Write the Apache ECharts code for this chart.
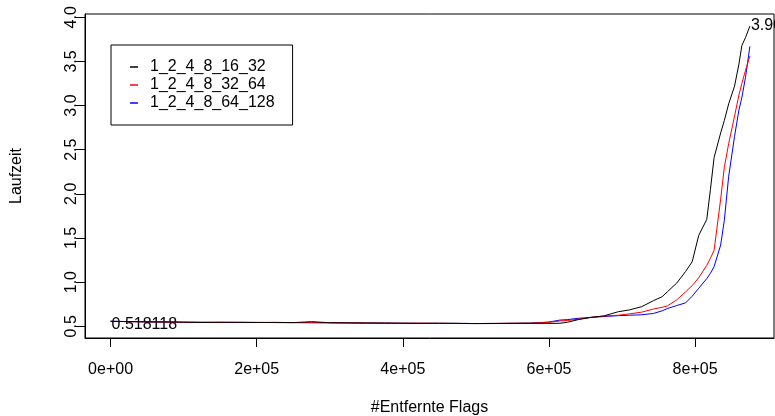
<!DOCTYPE html>
<html>
<head>
<meta charset="utf-8">
<script src="https://cdn.jsdelivr.net/npm/echarts@6/dist/echarts.min.js"></script>
<style>
html, body { margin: 0; padding: 0; background: #fff; }
#chart { width: 775px; height: 416px; }
</style>
</head>
<body>
<div id="chart"></div>
<script>
var seriesNames = ['1_2_4_8_16_32', '1_2_4_8_32_64', '1_2_4_8_64_128'];
var seriesColors = ['#000000', '#ff0000', '#0000ff'];

// #Entfernte Flags
var xs = [0, 25000, 50000, 75000, 100000, 125000, 150000, 175000, 200000, 225000,
	250000, 275000, 300000, 325000, 350000, 375000, 400000, 425000, 450000, 475000,
	500000, 525000, 550000, 575000, 600000, 615000, 625000, 640000, 657000, 675000,
	695000, 710000, 727000, 743000, 755000, 762000, 775000, 787000, 796000, 805000,
	816000, 821000, 826000, 835000, 840000, 846000, 854000, 860000, 864000, 869000, 875000];

// Laufzeit
var black = [0.555, 0.553, 0.55, 0.549, 0.546, 0.543, 0.545, 0.544, 0.543, 0.544,
	0.541, 0.552, 0.54, 0.538, 0.537, 0.536, 0.534, 0.533, 0.535, 0.532,
	0.53, 0.531, 0.533, 0.534, 0.532, 0.534, 0.545, 0.575, 0.60, 0.617,
	0.665, 0.685, 0.722, 0.79, 0.835, 0.89, 0.99, 1.12, 1.23, 1.53,
	1.71, 2.05, 2.41, 2.69, 2.83, 3.02, 3.22, 3.47, 3.68, 3.77, 3.90];
var red = [0.556, 0.552, 0.551, 0.548, 0.545, 0.544, 0.544, 0.545, 0.543, 0.542,
	0.542, 0.541, 0.54, 0.538, 0.537, 0.535, 0.534, 0.535, 0.533, 0.532,
	0.531, 0.532, 0.534, 0.535, 0.545, 0.56, 0.565, 0.58, 0.60, 0.615,
	0.625, 0.64, 0.66, 0.695, 0.715, 0.73, 0.80, 0.89, 0.96, 1.05,
	1.19, 1.27, 1.36, 1.94, 2.30, 2.57, 2.88, 3.12, 3.25, 3.40, 3.56];
var blue = [0.557, 0.553, 0.55, 0.548, 0.546, 0.545, 0.544, 0.543, 0.543, 0.542,
	0.541, 0.54, 0.539, 0.538, 0.536, 0.535, 0.534, 0.533, 0.532, 0.533,
	0.531, 0.532, 0.533, 0.535, 0.548, 0.57, 0.575, 0.59, 0.60, 0.61,
	0.62, 0.625, 0.63, 0.645, 0.675, 0.70, 0.735, 0.765, 0.84, 0.93,
	1.04, 1.10, 1.175, 1.42, 1.70, 2.20, 2.65, 2.95, 3.09, 3.32, 3.67];

var xTicks = [0, 200000, 400000, 600000, 800000];
var xTickLabels = ['0e+00', '2e+05', '4e+05', '6e+05', '8e+05'];
var yTicks = [0.5, 1.0, 1.5, 2.0, 2.5, 3.0, 3.5, 4.0];

// text labels drawn in the plot (min at start, max at end)
var noteCoords = [[0, 0.518118], [875000, 3.904]];
var noteTexts = ['0.518118', '3.904261'];

var font = 'Liberation Sans';
var allValues = [black, red, blue];

function pairs(vals){
	var out = [];
	for (var i = 0; i < xs.length; i++) {
		out.push([xs[i], vals[i]]);
	}
	return out;
}

var chart = echarts.init(document.getElementById('chart'), null, {renderer: 'canvas'});

var series = [];
for (var i = 0; i < seriesNames.length; i++) {
	var s = {
		name: seriesNames[i],
		type: 'line',
		data: pairs(allValues[i]),
		showSymbol: false,
		symbol: 'none',
		color: seriesColors[i],
		lineStyle: {color: seriesColors[i], width: 1},
		z: 10 - i
	};
	series.push(s);
}
series[0].markPoint = {
	symbol: 'circle',
	symbolSize: 0,
	silent: true,
	label: {
		show: true,
		position: 'right',
		distance: 1,
		color: '#000',
		fontFamily: font,
		fontSize: 16,
		formatter: function(p){ return p.name; }
	},
	data: noteCoords.map(function(c, k){
		return {name: noteTexts[k], coord: c};
	})
};

var option = {
	animation: false,
	backgroundColor: '#fff',
	textStyle: {fontFamily: font},
	grid: {
		left: 85, top: 14, right: 1, bottom: 78,
		outerBoundsMode: 'none',
		containLabel: false,
		show: true, borderColor: '#000', borderWidth: 1, backgroundColor: 'transparent'
	},
	legend: {
		left: 111, top: 45,
		orient: 'vertical',
		data: seriesNames,
		icon: 'rect',
		itemWidth: 8,
		itemHeight: 1.5,
		itemGap: 0,
		borderColor: '#000',
		borderWidth: 1,
		padding: [13, 18, 13, 19],
		textStyle: {fontFamily: font, fontSize: 16, color: '#000', lineHeight: 18, padding: [0, 0, 0, 7]}
	},
	xAxis: {
		type: 'value',
		min: -35000,
		max: 908000,
		name: '#Entfernte Flags',
		nameLocation: 'middle',
		nameGap: 62,
		nameTextStyle: {fontFamily: font, fontSize: 16, color: '#000'},
		splitLine: {show: false},
		axisLine: {show: true, onZero: false, lineStyle: {color: '#000', width: 1}},
		axisTick: {show: true, length: 9, customValues: xTicks, lineStyle: {color: '#000'}},
		axisLabel: {
			customValues: xTicks,
			margin: 24,
			color: '#000',
			fontFamily: font,
			fontSize: 16,
			formatter: function(v){
				var k = xTicks.indexOf(v);
				return k >= 0 ? xTickLabels[k] : '';
			}
		}
	},
	yAxis: {
		type: 'value',
		min: 0.367,
		max: 4.037,
		name: 'Laufzeit',
		nameLocation: 'middle',
		nameGap: 60,
		nameTextStyle: {fontFamily: font, fontSize: 16, color: '#000'},
		splitLine: {show: false},
		axisLine: {show: true, onZero: false, lineStyle: {color: '#000', width: 1}},
		axisTick: {show: true, length: 9, customValues: yTicks, lineStyle: {color: '#000'}},
		axisLabel: {
			customValues: yTicks,
			rotate: 90,
			margin: 5,
			color: '#000',
			fontFamily: font,
			fontSize: 16,
			formatter: function(v){ return v.toFixed(1); }
		}
	},
	series: series
};

chart.setOption(option);
</script>
</body>
</html>
